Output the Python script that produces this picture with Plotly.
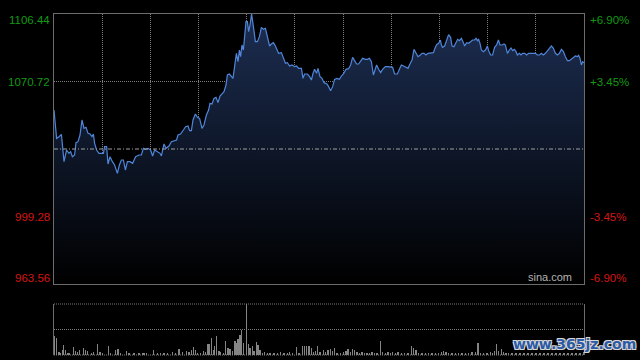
import plotly.graph_objects as go

# ---------------- data ----------------
prev_close = 1035.00
price_levels = [963.56, 999.28, 1070.72, 1106.44]
level_labels = ["963.56", "999.28", "1070.72", "1106.44"]
pct_labels = ["-6.90%", "-3.45%", "+3.45%", "+6.90%"]

t1 = [0, 1.3, 2.5, 3.7, 5, 6.3, 7.5, 8.3, 9.2, 10.3, 11, 12, 13, 14, 15, 16, 17, 18, 19, 19.7,
      20.3, 21.3, 22.5, 24.7, 25.3, 26.3, 27, 28, 29.2, 30.3, 31.7, 32.7, 33.7, 34.7, 35.7, 36.7,
      38, 39.3, 40.8, 42.5, 43.7, 44.7, 45.8, 47, 48.3, 49.3, 50.3, 51.7, 53, 53.7, 55, 56, 57.5,
      58.7, 60, 61.3, 62, 63.3, 64.7, 65.8, 67]
p1 = [1055.64, 1040.65, 1041.53, 1042.76, 1028.30, 1034.47, 1032.71, 1033.59, 1030.94, 1031.83,
      1038.35, 1038.88, 1042.41, 1050.35, 1045.94, 1046.47, 1043.29, 1042.94, 1041.53, 1042.94,
      1038.00, 1034.47, 1032.71, 1032.71, 1036.24, 1036.24, 1027.06, 1030.94, 1028.30, 1026.53,
      1022.12, 1026.53, 1029.18, 1029.18, 1023.89, 1028.30, 1028.30, 1027.42, 1030.94, 1031.83,
      1031.83, 1035.35, 1034.82, 1035.35, 1034.47, 1031.30, 1034.47, 1033.59, 1032.71, 1031.30,
      1037.65, 1035.35, 1036.59, 1038.88, 1039.41, 1039.76, 1042.41, 1042.94, 1045.06, 1046.82,
      1047.17]

t2 = [67.8, 68.7, 69.5, 70.7, 71.7, 72.8, 74, 75, 76.2, 77.3, 78, 79, 80, 81, 82, 83, 84, 85, 86,
      86.7, 87.7, 88.7, 89.5, 90.3, 91.2, 92, 92.7, 93.3, 94, 94.7, 95.3, 96, 96.7, 97.3, 98, 98.8,
      99.7, 100.7, 101.7, 102.7, 103.7, 104.7, 105.7, 106.7, 107.8, 108.7, 109.7, 110.7, 111.7,
      112.3, 113.7, 114.7, 115.7, 116.7, 117.8, 119, 120.3, 121.3, 122.3, 123.7, 124.5, 125.3,
      126.7, 127.8, 128.7, 129.5, 130.3, 131.3, 132, 133, 134]
p2 = [1044.70, 1044.70, 1050.35, 1053.52, 1051.76, 1051.23, 1045.94, 1047.70, 1052.99, 1055.64,
      1059.17, 1058.82, 1061.81, 1062.34, 1059.52, 1063.05, 1064.46, 1065.34, 1068.87, 1074.16,
      1074.69, 1073.28, 1072.40, 1078.57, 1085.63, 1081.22, 1087.39, 1083.86, 1090.04, 1087.39,
      1094.45, 1102.39, 1102.39, 1097.09, 1100.62, 1106.44, 1099.74, 1091.80, 1091.80, 1094.45,
      1099.39, 1098.33, 1098.86, 1094.45, 1089.51, 1090.57, 1091.27, 1089.51, 1086.51, 1085.63,
      1085.98, 1082.98, 1080.34, 1080.69, 1078.92, 1079.45, 1078.57, 1078.92, 1077.69, 1077.69,
      1072.40, 1074.69, 1074.69, 1073.28, 1071.52, 1075.04, 1077.16, 1075.04, 1077.69, 1073.28,
      1072.40]

t3 = [135, 136.5, 137.3, 138.3, 139.3, 140.3, 141.5, 142.7, 143.7, 144.7, 146, 147.3, 148.3,
      149.3, 150.3, 151.3, 152.3, 153.3, 154.3, 155.7, 156.7, 157.7, 158.7, 159.7, 160.7, 161.3,
      162.3, 163.3, 164.3, 165.7, 167, 168.3, 169.3, 170.3, 171.7, 172.7, 173.7, 174.8, 176, 177,
      178, 179, 180, 181, 182, 183, 184, 185, 186, 187, 188.3, 189.7, 190.3, 191.3, 192.3, 193.2,
      193.7, 194.3, 195.3, 196.3, 197.3, 198.3, 199, 200, 201]
p3 = [1070.10, 1069.40, 1067.99, 1065.87, 1067.99, 1071.87, 1072.40, 1071.87, 1073.63, 1074.69,
      1077.16, 1077.51, 1079.45, 1083.51, 1081.75, 1079.98, 1079.98, 1081.75, 1082.98, 1082.45,
      1082.45, 1082.98, 1081.22, 1074.16, 1076.81, 1079.45, 1077.16, 1075.40, 1077.16, 1078.57,
      1078.57, 1078.57, 1078.22, 1074.69, 1074.69, 1077.16, 1079.45, 1078.92, 1078.22, 1077.69,
      1079.98, 1082.10, 1087.74, 1085.98, 1083.86, 1084.57, 1085.63, 1085.63, 1084.75, 1085.63,
      1085.63, 1085.98, 1087.74, 1090.21, 1090.92, 1092.68, 1090.04, 1088.80, 1089.51, 1092.68,
      1095.51, 1094.10, 1089.51, 1089.16, 1090.92]

t4 = [201.8, 202.7, 203.7, 204.7, 205.3, 206.3, 207.3, 208.3, 209.3, 210.3, 211, 211.7, 212.3,
      213, 213.7, 214.7, 215.7, 216.7, 217.3, 218.3, 219.3, 220.3, 221.3, 222.2, 223, 224, 225,
      225.7, 226.7, 227.7, 228.5, 229.3, 230.2, 231, 231.7, 232.7, 233.5, 234.3, 235.3, 236.3,
      237.3, 238.5, 239.7, 240.7, 241.7, 242.7, 243.7, 244.7, 245.7, 246.7, 247.7, 248.7, 249.7,
      250.7, 251.7, 252.7, 253.7, 254.7, 255.7, 256.7, 257.7, 258.7, 259.7, 260.7, 261.7, 262.3,
      263, 263.7, 264.3, 265]
p4 = [1093.04, 1092.33, 1093.57, 1091.27, 1089.51, 1091.27, 1090.92, 1091.80, 1092.68, 1092.68,
      1093.57, 1092.33, 1093.04, 1090.92, 1087.39, 1086.51, 1087.39, 1089.51, 1087.04, 1084.75,
      1084.75, 1088.80, 1090.04, 1092.68, 1090.04, 1090.04, 1090.57, 1090.04, 1085.63, 1087.39,
      1088.45, 1087.04, 1087.74, 1086.51, 1084.75, 1085.63, 1084.75, 1085.63, 1085.63, 1084.75,
      1085.63, 1085.63, 1085.63, 1085.63, 1084.75, 1084.75, 1085.63, 1084.75, 1085.63, 1087.04,
      1088.27, 1089.51, 1088.27, 1085.63, 1084.75, 1085.63, 1087.74, 1086.51, 1083.86, 1081.75,
      1081.75, 1082.45, 1083.51, 1084.22, 1083.86, 1084.57, 1082.98, 1079.45, 1081.22, 1080.69]

vol_t1 = [0.3, 1.3, 2.5, 3.3, 4.2, 4.7, 5.8, 6.7, 7.5, 9.7, 10.8, 11.7, 12.7, 14.7, 15.8, 16.7,
          18.7, 19.7, 21.7, 23, 24.2, 27.2, 28.3, 30.8, 32, 33.3, 36.3, 37.5, 40, 42.5, 44.2, 45,
          46.3, 49.7, 51.7, 53.3, 55, 56.7, 59.2, 60.8, 62.5, 64.2, 66.3, 67.5, 68.7, 69.7, 70.7,
          71.7, 73.3, 74.7, 75.8, 77, 77.5, 78.7, 79.7, 80.3, 81.2, 82.5, 83.3, 84.7, 85.7, 87, 88,
          89.2, 90.5, 91.2, 92, 93, 93.8, 94.7, 96.2, 97.2, 98, 99.2, 100, 101.2, 102, 103, 104.2,
          105.3, 106.7, 108, 110, 111.7, 113.3, 115, 116.7, 117.7, 119.2, 121.2, 122.5, 124.2,
          125.3, 126.3, 127.5, 128.7, 129.7, 130.8, 131.7, 133]
vol_v1 = [367, 333, 67, 47, 100, 200, 100, 47, 33, 153, 87, 67, 100, 133, 100, 87, 47, 67, 220, 67,
          47, 180, 33, 100, 113, 33, 80, 33, 33, 33, 47, 47, 33, 100, 33, 33, 33, 33, 60, 47, 113,
          67, 87, 67, 100, 153, 100, 47, 33, 87, 67, 220, 220, 333, 100, 167, 380, 87, 67, 47, 267,
          133, 113, 87, 267, 233, 313, 400, 500, 233, 1000, 220, 133, 180, 87, 247, 200, 100, 47,
          67, 47, 33, 47, 47, 67, 33, 47, 67, 33, 153, 47, 167, 167, 180, 180, 133, 67, 87, 167, 67]
vol_t2 = [134.8, 135.7, 137, 138.2, 139.3, 140.3, 141.5, 143.2, 144.8, 146, 147, 148.2, 149.3,
          150.3, 151.5, 152.7, 154, 155.3, 156.5, 157.7, 159, 160.3, 161.5, 163.2, 164.3, 165.7,
          167, 168.2, 169.3, 170.7, 172, 173.7, 175.3, 177, 178.7, 179.8, 181, 182.3, 184, 185.7,
          187.3, 189, 190.7, 192.3, 193.7, 194.8, 196, 197.3, 199, 200.7, 202.3, 204, 205.7, 207.3,
          209, 210.7, 212, 213.2, 214.8, 216.5, 218.2, 219.3, 220.3, 221.3, 222.3, 223.7, 224.8,
          226, 227.3, 229, 231, 233, 235, 237, 239, 241, 243, 245, 247, 249, 251, 253, 255, 257,
          259, 261, 263, 265]
vol_v2 = [100, 67, 100, 113, 87, 133, 47, 47, 67, 87, 113, 67, 113, 100, 67, 47, 67, 47, 33, 47,
          67, 47, 47, 267, 67, 47, 67, 47, 67, 47, 67, 47, 47, 33, 180, 133, 100, 47, 47, 33, 47,
          33, 47, 33, 67, 87, 67, 33, 47, 33, 47, 33, 47, 33, 67, 67, 233, 47, 33, 47, 67, 33, 87,
          220, 87, 113, 67, 47, 33, 47, 47, 33, 47, 33, 47, 33, 47, 33, 47, 33, 47, 33, 47, 33, 47,
          33, 47, 60]

times = t1 + t2 + t3 + t4
prices = p1 + p2 + p3 + p4
vol_times = vol_t1 + vol_t2
volumes = vol_v1 + vol_v2

# ---------------- styling ----------------
T_MAX = 265
GREEN = "#129a12"
RED = "#d81414"
GRID = "#7c7c7c"
BORDER = "#6c6c6c"
FONT = "Liberation Sans, Arial, sans-serif"
main_dom = [71 / 341, 1.0]
vol_dom = [0.0, 51 / 341]
vgrid = [i * T_MAX / 11 for i in range(1, 11)]

fig = go.Figure()
fig.add_trace(go.Scatter(
    x=times, y=prices, mode="lines",
    line=dict(color="#4f86da", width=1.2),
    fill="tozeroy",
    fillgradient=dict(type="vertical",
                      colorscale=[[0, "#000000"], [0.5, "#0e1729"], [1, "#1d2e52"]],
                      start=price_levels[0], stop=price_levels[-1]),
    xaxis="x", yaxis="y", hoverinfo="skip", showlegend=False))

fig.add_trace(go.Bar(
    x=vol_times, y=volumes, width=0.55,
    marker=dict(color="#858585", line=dict(width=0)),
    xaxis="x2", yaxis="y2", hoverinfo="skip", showlegend=False))

shapes = [
    dict(type="line", xref="x domain", yref="y", x0=0, x1=1, y0=prev_close, y1=prev_close,
         line=dict(color="#a0a0a0", width=1, dash="4px,2px,1px,2px")),
]
for yd in (0, 0.5, 1):
    shapes.append(dict(type="line", xref="x2 domain", yref="y2 domain", x0=0, x1=1, y0=yd, y1=yd,
                       line=dict(color=GRID, width=1, dash="1px,1px")))

annotations = []
for val, lab, pct in zip(price_levels, level_labels, pct_labels):
    col = GREEN if val > prev_close else RED
    ysh = -6 if val == price_levels[-1] else (6 if val == price_levels[0] else 0)
    annotations.append(dict(xref="paper", yref="y", x=0, y=val, text=lab, showarrow=False,
                            xanchor="right", yanchor="middle", xshift=-2, yshift=ysh,
                            font=dict(family=FONT, size=11.5, color=col)))
    annotations.append(dict(xref="paper", yref="y", x=1, y=val, text=pct, showarrow=False,
                            xanchor="left", yanchor="middle", xshift=4, yshift=ysh,
                            font=dict(family=FONT, size=11.5, color=col)))
annotations.append(dict(xref="paper", yref="paper", x=1, y=main_dom[0], text="sina.com",
                        showarrow=False, xanchor="right", yanchor="bottom", xshift=-10, yshift=-1,
                        font=dict(family=FONT, size=11, color="#b4b4b4")))
annotations.append(dict(xref="paper", yref="paper", x=0.983, y=0.032, text="www.365jz.com",
                        showarrow=False, xanchor="center", yanchor="middle",
                        font=dict(family="DejaVu Sans", size=14, color="#2b5aa6", weight="bold",
                                  shadow="1px 1px 0 #d8d8d8, -1px -1px 0 #d8d8d8, 1px -1px 0 #d8d8d8, -1px 1px 0 #d8d8d8")))

fig.update_layout(
    width=640, height=360,
    margin=dict(l=54, r=56, t=14, b=5),
    paper_bgcolor="#000000", plot_bgcolor="#000000",
    showlegend=False, hovermode=False, bargap=0,
    xaxis=dict(domain=[0, 1], range=[0, T_MAX], anchor="y", tickvals=vgrid,
               showticklabels=False, ticks="", showgrid=True, gridcolor=GRID, gridwidth=1,
               griddash="1px,1px", zeroline=False, showline=True, mirror=True,
               linecolor=BORDER, linewidth=1),
    yaxis=dict(domain=main_dom, range=[price_levels[0], price_levels[-1]], anchor="x",
               tickvals=price_levels[1:3], showticklabels=False, ticks="", showgrid=True,
               gridcolor=GRID, gridwidth=1, griddash="1px,1px", zeroline=False,
               showline=True, mirror=True, linecolor=BORDER, linewidth=1),
    xaxis2=dict(domain=[0, 1], range=[0, T_MAX], anchor="y2", showticklabels=False, ticks="",
                showgrid=False, zeroline=False, showline=False),
    yaxis2=dict(domain=vol_dom, range=[0, 1000], anchor="x2", showticklabels=False, ticks="",
                showgrid=False, zeroline=False, showline=True, mirror=True,
                linecolor=BORDER, linewidth=1),
    shapes=shapes,
    annotations=annotations,
)

fig.write_html("out.html",
               config={"displayModeBar": False, "staticPlot": True},
               post_script="document.body.style.margin='0';document.body.style.background='#000';")
